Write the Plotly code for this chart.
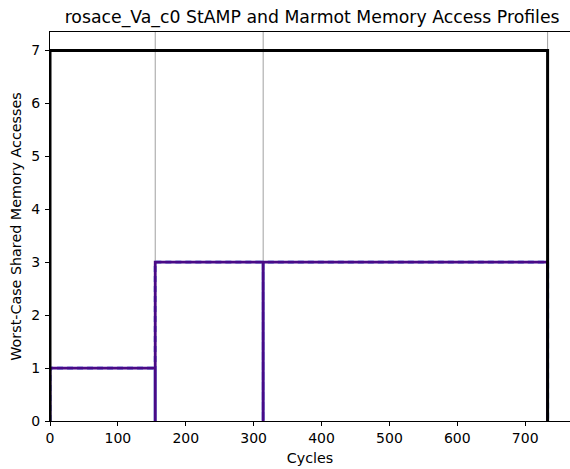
import plotly.graph_objects as go

# Segment boundaries (cycles) and per-segment worst-case accesses
boundaries = [0, 155, 314, 733]
stamp_values = [1, 3, 3]          # StAMP profile
marmot_values = [1, 3, 3]         # Marmot profile (overlaps StAMP)
max_value = 7                     # overall bound
title = "rosace_Va_c0 StAMP and Marmot Memory Access Profiles"
x_ticks = [0, 100, 200, 300, 400, 500, 600, 700]
y_ticks = [0, 1, 2, 3, 4, 5, 6, 7]

def bars_path(bounds, vals):
    xs, ys = [], []
    for i, v in enumerate(vals):
        x0, x1 = bounds[i], bounds[i + 1]
        xs += [x0, x0, x1, x1]
        ys += [0, v, v, 0]
    return xs, ys

fig = go.Figure()

# grey boundary lines
for b in boundaries[1:]:
    fig.add_shape(type="line", x0=b, x1=b, y0=0, y1=1, yref="paper",
                  line=dict(color="#a0a0a0", width=1), layer="below")

mx, my = bars_path(boundaries, marmot_values)
fig.add_trace(go.Scatter(x=mx, y=my, mode="lines",
                         line=dict(color="#7ea2f0", width=3.2, dash="6px,4px"),
                         showlegend=False))
sx, sy = bars_path(boundaries, stamp_values)
fig.add_trace(go.Scatter(x=sx, y=sy, mode="lines",
                         line=dict(color="#4a0a86", width=2.8), showlegend=False))
bx, by = bars_path([boundaries[0], boundaries[-1]], [max_value])
fig.add_trace(go.Scatter(x=bx, y=by, mode="lines",
                         line=dict(color="black", width=3), showlegend=False))

fig.update_layout(
    width=570, height=469,
    margin=dict(l=50, r=0, t=32, b=48),
    paper_bgcolor="white", plot_bgcolor="white",
    font=dict(family="DejaVu Sans", size=14, color="black"),
    title=dict(text=title, xref="paper", x=0.504, xanchor="center",
               y=0.964, yanchor="middle", font=dict(size=17.3)),
    xaxis=dict(range=[0, 766], tickvals=x_ticks,
               showgrid=False, zeroline=False, showline=True, linecolor="black",
               linewidth=1, mirror=True, ticks="outside", ticklen=4,
               tickcolor="black", automargin=False,
               title=dict(text="Cycles", standoff=8, font=dict(size=14.3))),
    yaxis=dict(range=[0, 7.35], tickvals=y_ticks,
               showgrid=False, zeroline=False, showline=True, linecolor="black",
               linewidth=1, ticks="outside", ticklen=4, tickcolor="black",
               automargin=False, ticklabelstandoff=2,
               title=dict(text="Worst-Case Shared Memory Accesses", standoff=6,
                          font=dict(size=14.3))),
)

fig.write_html("out.html",
               config={"displayModeBar": False},
               post_script="document.body.style.margin='0';"
                           "document.body.style.overflow='hidden';")
